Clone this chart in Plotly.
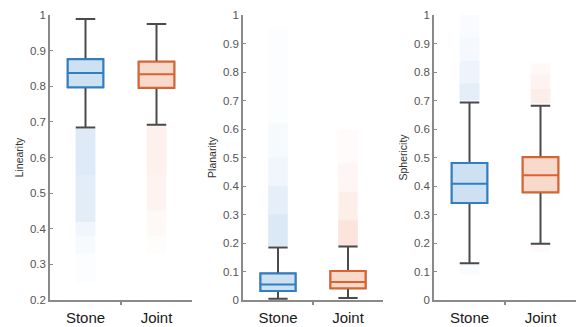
import plotly.graph_objects as go

categories = ["Stone", "Joint"]
cat_pos = [1, 2]
metrics = ["Linearity", "Planarity", "Sphericity"]
y_ranges = [[0.2, 1.0], [0.0, 1.0], [0.0, 1.0]]
y_ticks = [[0.2, 0.3, 0.4, 0.5, 0.6, 0.7, 0.8, 0.9, 1.0],
           [0, 0.1, 0.2, 0.3, 0.4, 0.5, 0.6, 0.7, 0.8, 0.9, 1.0],
           [0, 0.1, 0.2, 0.3, 0.4, 0.5, 0.6, 0.7, 0.8, 0.9, 1.0]]
y_ticktext = [["0.2", "0.3", "0.4", "0.5", "0.6", "0.7", "0.8", "0.9", "1"],
              ["0", "0.1", "0.2", "0.3", "0.4", "0.5", "0.6", "0.7", "0.8", "0.9", "1"],
              ["0", "0.1", "0.2", "0.3", "0.4", "0.5", "0.6", "0.7", "0.8", "0.9", "1"]]

# box statistics per metric: [Stone, Joint]
q1 = [[0.797, 0.796], [0.032, 0.041], [0.340, 0.378]]
median = [[0.837, 0.834], [0.054, 0.063], [0.408, 0.438]]
q3 = [[0.876, 0.869], [0.093, 0.102], [0.481, 0.501]]
lower_whisker = [[0.684, 0.692], [0.004, 0.007], [0.129, 0.197]]
upper_whisker = [[0.989, 0.975], [0.184, 0.188], [0.693, 0.682]]

# outlier clouds: bands (low, high, relative density) per metric per group
outlier_bands = [
    [  # Linearity
        [(0.55, 0.68, 0.20), (0.42, 0.55, 0.17), (0.38, 0.42, 0.09), (0.33, 0.38, 0.05), (0.25, 0.33, 0.025)],
        [(0.55, 0.69, 0.11), (0.45, 0.55, 0.09), (0.38, 0.45, 0.05), (0.33, 0.38, 0.02)],
    ],
    [  # Planarity
        [(0.19, 0.30, 0.22), (0.30, 0.40, 0.15), (0.40, 0.50, 0.09), (0.50, 0.62, 0.05), (0.62, 0.95, 0.025)],
        [(0.19, 0.28, 0.22), (0.28, 0.38, 0.13), (0.38, 0.48, 0.07), (0.48, 0.60, 0.03)],
    ],
    [  # Sphericity
        [(0.70, 0.76, 0.16), (0.76, 0.84, 0.10), (0.84, 0.92, 0.06), (0.92, 1.00, 0.035), (0.09, 0.13, 0.04)],
        [(0.69, 0.74, 0.14), (0.74, 0.79, 0.09), (0.79, 0.83, 0.05), (0.17, 0.20, 0.04)],
    ],
]

line_colors = ["#2e7fc6", "#e0622b"]
fill_colors = ["#cde1f2", "#f8dacd"]
cloud_rgb = ["90,150,215", "230,130,95"]
whisker_color = "#4a4a4a"

domains = [[50 / 576, 192 / 576], [243 / 576, 383 / 576], [434 / 576, 1.0]]

fig = go.Figure()

for m in range(3):
    xa = "x" if m == 0 else f"x{m+1}"
    ya = "y" if m == 0 else f"y{m+1}"
    # outlier clouds
    for g in range(2):
        for lo, hi, dens in outlier_bands[m][g]:
            fig.add_trace(go.Bar(
                x=[cat_pos[g]], y=[hi - lo], base=[lo], width=0.28,
                marker=dict(color=f"rgba({cloud_rgb[g]},{dens})", line=dict(width=0)),
                xaxis=xa, yaxis=ya, showlegend=False, hoverinfo="skip"))
    # gray whisker boxes
    for g in range(2):
        fig.add_trace(go.Box(
            x=[cat_pos[g]], q1=[q1[m][g]], median=[median[m][g]], q3=[q3[m][g]],
            lowerfence=[lower_whisker[m][g]], upperfence=[upper_whisker[m][g]],
            width=0.5, whiskerwidth=0.55, boxpoints=False,
            line=dict(color=whisker_color, width=2), fillcolor="white",
            xaxis=xa, yaxis=ya, showlegend=False))
    # colored boxes on top
    for g in range(2):
        fig.add_trace(go.Box(
            x=[cat_pos[g]], q1=[q1[m][g]], median=[median[m][g]], q3=[q3[m][g]],
            lowerfence=[q1[m][g]], upperfence=[q3[m][g]],
            width=0.5, whiskerwidth=0, boxpoints=False,
            line=dict(color=line_colors[g], width=2), fillcolor=fill_colors[g],
            xaxis=xa, yaxis=ya, showlegend=False))

layout = dict(
    width=576, height=327,
    margin=dict(l=0, r=0, t=15, b=27),
    paper_bgcolor="white", plot_bgcolor="white",
    barmode="overlay", boxmode="overlay",
    font=dict(family="Liberation Sans, Arial, sans-serif"),
)
for m in range(3):
    xk = "xaxis" if m == 0 else f"xaxis{m+1}"
    yk = "yaxis" if m == 0 else f"yaxis{m+1}"
    ya_anchor = "y" if m == 0 else f"y{m+1}"
    xa_anchor = "x" if m == 0 else f"x{m+1}"
    layout[xk] = dict(
        domain=domains[m], anchor=ya_anchor, range=[0.5, 2.5],
        tickvals=cat_pos, ticktext=categories, ticks="",
        tickfont=dict(size=15, color="#1a1a1a"), ticklabelstandoff=3,
        showline=True, linecolor="#8a8a8a", linewidth=1.5, showgrid=False, zeroline=False,
        minor=dict(tickvals=[1.5], ticks="outside", ticklen=3, tickcolor="#8a8a8a", tickwidth=1.5),
    )
    layout[yk] = dict(
        domain=[0, 1], anchor=xa_anchor, range=y_ranges[m],
        tickvals=y_ticks[m], ticktext=y_ticktext[m],
        ticks="inside", ticklen=3, tickcolor="#8a8a8a", tickwidth=1,
        tickfont=dict(size=11.5, color="#555555"),
        showline=True, linecolor="#8a8a8a", linewidth=1.5, showgrid=False, zeroline=False,
        title=dict(text=metrics[m], font=dict(size=10.5, color="#333333"), standoff=4),
    )
fig.update_layout(**layout)

fig.write_html("out.html",
               config={"displayModeBar": False},
               post_script="document.body.style.margin='0';document.body.style.padding='0';")
